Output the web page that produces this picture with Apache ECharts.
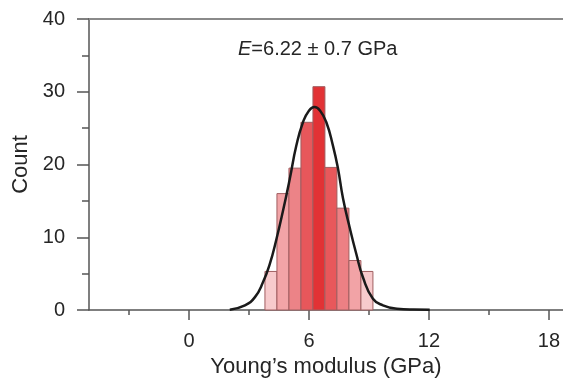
<!DOCTYPE html>
<html>
<head>
<meta charset="utf-8">
<script src="https://cdn.jsdelivr.net/npm/echarts@6/dist/echarts.min.js"></script>
<style>
  html, body { margin: 0; padding: 0; background: #fff; }
  #chart { width: 563px; height: 383px; }
</style>
</head>
<body>
<div id="chart"></div>
<script>
// ---- data ----
const xTickLabels = [0, 6, 12, 18];
const xMinorTicks = [-3, 3, 9, 15];
const binStarts = [3.8, 4.4, 5.0, 5.6, 6.2, 6.8, 7.4, 8.0, 8.6];
const binWidth = 0.6;
const counts = [5.3, 16.0, 19.5, 25.8, 30.7, 19.6, 14.0, 6.8, 5.3];
const fitX = [2.04, 2.8, 3.3, 3.7, 4.04, 4.37, 4.7, 5.04, 5.37, 5.7, 6.0, 6.28, 6.56, 6.87, 7.2, 7.45, 7.7, 8.04, 8.37, 8.7, 9.2, 9.7, 10.4, 11.2, 12.04];
const fitY = [0.05, 0.64, 1.77, 3.8, 6.3, 9.7, 13.6, 18.0, 22.6, 25.8, 27.4, 27.9, 27.4, 25.8, 22.6, 19.5, 15.4, 11.3, 7.7, 4.5, 1.55, 0.64, 0.18, 0.06, 0.04];
const annotation = '{i|E}=6.22 ± 0.7 GPa';

// ---- styles ----
const barColors = ['#f7cacc', '#f2a4a7', '#ec8387', '#e7575b', '#e23235', '#e8585b', '#ed8084', '#f2a3a6', '#f7cacc'];
const fontFam = '"Liberation Sans", Arial, sans-serif';
const textColor = '#262626';
const axisColor = '#555';

const barData = binStarts.map((s, i) => [s, s + binWidth, counts[i]]);
const fitData = fitX.map((x, i) => [x, fitY[i]]);

const chart = echarts.init(document.getElementById('chart'), null, { renderer: 'canvas' });
chart.setOption({
  animation: false,
  backgroundColor: '#fff',
  grid: { left: 89, right: 0, top: 19, bottom: 70, containLabel: false },
  xAxis: [
    {
      type: 'value', min: -5, max: 18.7, position: 'bottom',
      name: 'Young’s modulus (GPa)', nameLocation: 'middle', nameGap: 46,
      nameTextStyle: { fontFamily: fontFam, fontSize: 22, color: textColor },
      axisLine: { show: true, onZero: false, lineStyle: { color: axisColor, width: 1.5 } },
      axisTick: { show: true, customValues: xTickLabels, length: 10, lineStyle: { color: axisColor, width: 1.5 } },
      axisLabel: { customValues: xTickLabels, margin: 21, fontFamily: fontFam, fontSize: 20, color: textColor },
      splitLine: { show: false }
    },
    {
      type: 'value', min: -5, max: 18.7, position: 'bottom',
      axisLine: { show: false, onZero: false },
      axisTick: { show: true, customValues: xMinorTicks, length: 5, lineStyle: { color: axisColor, width: 1.5 } },
      axisLabel: { show: false },
      splitLine: { show: false }
    },
    {
      type: 'value', min: -5, max: 18.7, position: 'top',
      axisLine: { show: true, onZero: false, lineStyle: { color: '#8a8a8a', width: 2 } },
      axisTick: { show: false },
      axisLabel: { show: false },
      splitLine: { show: false }
    }
  ],
  yAxis: {
    type: 'value', min: 0, max: 40, interval: 10, position: 'left',
    name: 'Count', nameLocation: 'middle', nameGap: 53,
    nameTextStyle: { fontFamily: fontFam, fontSize: 22, color: textColor },
    axisLine: { show: true, onZero: false, lineStyle: { color: axisColor, width: 1.5 } },
    axisTick: { show: true, length: 12, lineStyle: { color: axisColor, width: 1.5 } },
    minorTick: { show: true, splitNumber: 2, length: 7, lineStyle: { color: axisColor, width: 1.5 } },
    axisLabel: { margin: 24, fontFamily: fontFam, fontSize: 20, color: textColor },
    splitLine: { show: false }
  },
  graphic: [{
    type: 'text', left: 238, top: 39, z: 100,
    style: {
      text: annotation,
      fontFamily: fontFam, fontSize: 20, fill: textColor,
      rich: { i: { fontStyle: 'italic', fontFamily: fontFam, fontSize: 20, fill: textColor } }
    }
  }],
  series: [
    {
      type: 'custom', xAxisIndex: 0, yAxisIndex: 0, z: 2,
      data: barData,
      encode: { x: [0, 1], y: 2 },
      renderItem: function (params, api) {
        const p0 = api.coord([api.value(0), 0]);
        const p1 = api.coord([api.value(1), api.value(2)]);
        return {
          type: 'rect',
          shape: { x: p0[0], y: p1[1], width: p1[0] - p0[0], height: p0[1] - p1[1] },
          style: { fill: barColors[params.dataIndex], stroke: '#a05e60', lineWidth: 1 }
        };
      }
    },
    {
      type: 'line', xAxisIndex: 0, yAxisIndex: 0, z: 5,
      data: fitData, smooth: true, symbol: 'none',
      lineStyle: { color: '#1a1a1a', width: 2.5 }
    }
  ]
});
</script>
</body>
</html>
